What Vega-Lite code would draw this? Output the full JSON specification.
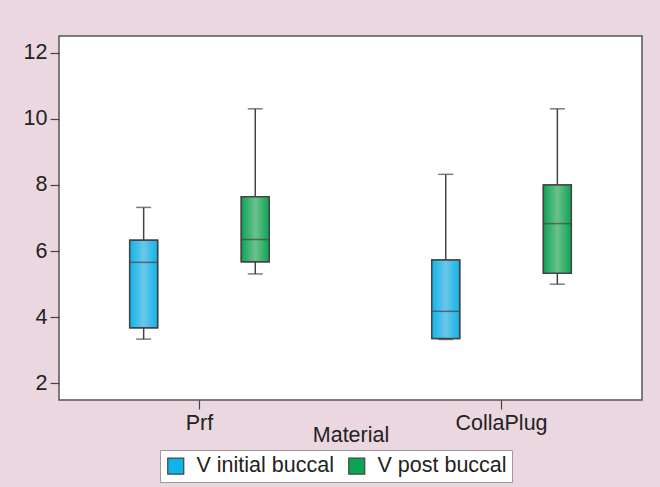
{
  "$schema": "https://vega.github.io/schema/vega-lite/v6.json",
  "width": 583,
  "height": 364,
  "autosize": {"type": "none"},
  "padding": {"left": 59, "top": 36, "right": 18, "bottom": 87},
  "background": "#ead7e0",
  "config": {
    "font": "Liberation Sans",
    "view": {"fill": "white", "stroke": "#555555", "strokeWidth": 1.5},
    "axis": {"grid": false, "domain": false, "tickColor": "#444444", "tickWidth": 1.2, "tickSize": 9, "labelFont": "Liberation Sans", "labelFontSize": 21.5, "labelColor": "#222222", "titleFont": "Liberation Sans", "titleFontSize": 21.5, "titleColor": "#222222", "titleFontWeight": "normal"}
  },
  "data": {
    "values": [
      {"Material": "Prf", "Series": "V initial buccal", "min": 3.34, "q1": 3.68, "median": 5.66, "q3": 6.33, "max": 7.32},
      {"Material": "Prf", "Series": "V post buccal", "min": 5.31, "q1": 5.68, "median": 6.35, "q3": 7.64, "max": 10.3},
      {"Material": "CollaPlug", "Series": "V initial buccal", "min": 3.33, "q1": 3.36, "median": 4.18, "q3": 5.73, "max": 8.32},
      {"Material": "CollaPlug", "Series": "V post buccal", "min": 5.0, "q1": 5.33, "median": 6.83, "q3": 8.0, "max": 10.3}
    ]
  },
  "encoding": {
    "x": {
      "field": "Material", "type": "nominal", "sort": ["Prf", "CollaPlug"],
      "scale": {"paddingInner": 0.2, "paddingOuter": 0.065},
      "axis": {"labelAngle": 0, "labelPadding": 3, "title": "Material", "titleY": 41, "titleBaseline": "alphabetic"}
    },
    "xOffset": {
      "field": "Series", "type": "nominal", "sort": ["V initial buccal", "V post buccal"],
      "scale": {"paddingInner": 0.75, "paddingOuter": 0.4575}
    }
  },
  "layer": [
    {
      "mark": {"type": "rule", "color": "#444444", "strokeWidth": 1.5},
      "encoding": {
        "y": {"field": "min", "type": "quantitative", "scale": {"domain": [1.5, 12.5], "nice": false, "zero": false},
          "axis": {"values": [2, 4, 6, 8, 10, 12], "title": null, "labelPadding": 3}},
        "y2": {"field": "max"}
      }
    },
    {
      "mark": {"type": "tick", "color": "#444444", "size": 15, "thickness": 1.5},
      "encoding": {"y": {"field": "min", "type": "quantitative"}}
    },
    {
      "mark": {"type": "tick", "color": "#444444", "size": 15, "thickness": 1.5},
      "encoding": {"y": {"field": "max", "type": "quantitative"}}
    },
    {
      "mark": {"type": "bar", "stroke": "#444444", "strokeWidth": 1.5},
      "encoding": {
        "y": {"field": "q1", "type": "quantitative"},
        "y2": {"field": "q3"},
        "color": {
          "field": "Series", "type": "nominal",
          "scale": {"domain": ["V initial buccal", "V post buccal"], "range": ["#10b4e8", "#0ca454"]},
          "legend": {
            "title": null, "orient": "none", "legendX": 101, "legendY": 414, "direction": "horizontal",
            "symbolType": "square", "symbolSize": 256, "symbolStrokeColor": "#444444", "symbolStrokeWidth": 1.2, "symbolOpacity": 1,
            "labelFontSize": 21.5, "labelColor": "#222222", "labelFont": "Liberation Sans", "labelOffset": 10, "columnPadding": 12,
            "fillColor": "white", "strokeColor": "#9a9a9a", "padding": 5,
            "encode": {
              "symbols": {
                "update": {
                  "stroke": {"value": "#444444"},
                  "strokeWidth": {"value": 1.2},
                  "fill": {"signal": "datum.value === 'V initial buccal' ? {gradient: 'linear', x1: 0, y1: 0, x2: 1, y2: 0, stops: [{offset: 0, color: '#10b4e8'}, {offset: 0.5, color: '#6cc6ea'}, {offset: 1, color: '#10b4e8'}]} : {gradient: 'linear', x1: 0, y1: 0, x2: 1, y2: 0, stops: [{offset: 0, color: '#0ca454'}, {offset: 0.5, color: '#6cc08e'}, {offset: 1, color: '#0ca454'}]}"}
                }
              }
            }
          }
        }
      }
    },
    {
      "transform": [{"filter": "datum.Series === 'V initial buccal'"}],
      "mark": {"type": "bar", "stroke": "#444444", "strokeWidth": 1.5,
        "fill": {"gradient": "linear", "x1": 0, "y1": 0, "x2": 1, "y2": 0, "stops": [{"offset": 0, "color": "#10b4e8"}, {"offset": 0.5, "color": "#6cc6ea"}, {"offset": 1, "color": "#10b4e8"}]}},
      "encoding": {"y": {"field": "q1", "type": "quantitative"}, "y2": {"field": "q3"}}
    },
    {
      "transform": [{"filter": "datum.Series === 'V post buccal'"}],
      "mark": {"type": "bar", "stroke": "#444444", "strokeWidth": 1.5,
        "fill": {"gradient": "linear", "x1": 0, "y1": 0, "x2": 1, "y2": 0, "stops": [{"offset": 0, "color": "#0ca454"}, {"offset": 0.5, "color": "#6cc08e"}, {"offset": 1, "color": "#0ca454"}]}},
      "encoding": {"y": {"field": "q1", "type": "quantitative"}, "y2": {"field": "q3"}}
    },
    {
      "mark": {"type": "tick", "color": "#444444", "size": 28, "thickness": 1.5},
      "encoding": {"y": {"field": "median", "type": "quantitative"}}
    }
  ]
}
